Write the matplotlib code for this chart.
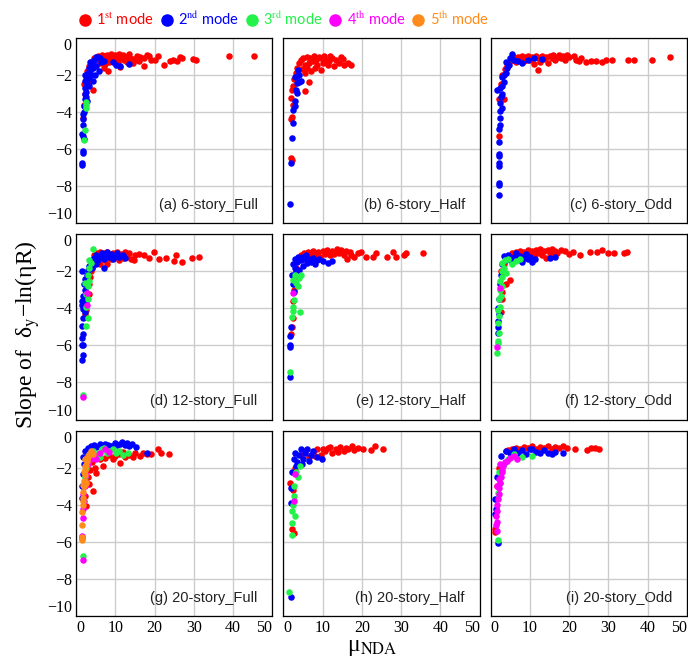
import numpy as np
import matplotlib
matplotlib.use("Agg")
import matplotlib.pyplot as plt
from matplotlib.lines import Line2D

plt.rcParams['mathtext.fontset'] = 'stix'
plt.rcParams['font.family'] = 'Liberation Serif'

# ---- data: (mu_NDA, slope) pairs ----
# (a) 6-story_Full
a1 = [(1.8,-4.3),(2.0,-3.6),(2.2,-3.0),(2.1,-2.5),(2.6,-2.1),(2.9,-1.8),(3.4,-1.5),(3.2,-2.4),(4.4,-2.8),
      (3.8,-1.3),(4.5,-1.1),(5.0,-1.0),(5.5,-0.95),(6.0,-1.0),(6.1,-1.35),(6.5,-0.9),(7.0,-1.6),(7.0,-0.95),
      (7.5,-1.0),(7.8,-1.17),(8.2,-1.8),(8.0,-0.9),(8.7,-1.1),(9.0,-0.85),(9.5,-1.1),(10.0,-0.9),(10.4,-1.06),
      (11.0,-0.85),(11.2,-1.1),(11.2,-1.55),(12.0,-0.9),(12.1,-1.2),(12.9,-1.03),(13.5,-0.85),(13.8,-1.1),
      (14.6,-1.15),(14.6,-1.35),(15.5,-0.99),(16.3,-1.03),(16.0,-1.25),(17.2,-1.08),(17.2,-1.5),(18.0,-0.9),
      (18.5,-0.95),(19.0,-1.2),(20.2,-1.17),(21.0,-0.95),(22.3,-1.44),(24.0,-1.26),(24.8,-1.17),(25.7,-1.26),
      (26.5,-1.0),(27.0,-1.08),(29.9,-1.13),(30.6,-1.2),(38.9,-0.95),(45.4,-0.95),(5.5,-1.2),(6.8,-1.15),
      (8.5,-1.3),(9.8,-1.25),(7.3,-1.4),(10.8,-1.3),(13.0,-1.3),(15.0,-1.2)]
a2 = [(1.5,-6.85),(1.6,-6.75),(1.8,-6.2),(1.9,-6.1),(1.5,-5.2),(1.9,-5.3),(2.0,-5.45),(1.8,-4.7),(1.7,-4.4),
      (1.8,-4.1),(2.0,-4.0),(2.1,-3.7),(2.3,-3.65),(2.2,-3.3),(2.5,-3.2),(2.2,-3.0),(2.6,-2.9),(2.3,-2.7),
      (2.7,-2.5),(2.4,-2.3),(2.8,-2.2),(3.2,-2.1),(3.0,-1.9),(3.5,-1.8),(3.9,-2.0),(3.3,-1.6),(3.8,-1.5),
      (4.2,-1.4),(3.6,-1.3),(4.6,-1.2),(5.0,-1.05),(5.6,-1.0),(6.0,-1.1),(4.4,-1.6),(5.2,-1.5),(5.9,-1.8),
      (4.9,-2.0),(4.2,-2.3),(3.4,-2.6),(6.4,-1.3),(7.0,-1.25),(9.5,-1.3),(10.3,-1.45),(11.1,-1.5),(13.5,-1.4),
      (2.9,-3.4),(2.4,-2.0)]
a3 = [(2.5,-3.45),(2.6,-3.6),(2.5,-3.8),(2.2,-4.95),(2.1,-5.5)]

# (b) 6-story_Half
b1 = [(4.1,-1.35),(4.6,-1.2),(5.0,-1.1),(5.4,-1.44),(5.8,-1.53),(6.0,-1.0),(6.6,-1.35),(6.8,-1.1),(7.1,-1.8),
      (7.5,-1.26),(7.8,-0.95),(8.3,-1.17),(8.6,-1.45),(9.0,-1.0),(9.6,-1.08),(9.6,-1.71),(10.0,-1.35),
      (10.4,-0.95),(10.9,-1.17),(11.3,-1.45),(11.7,-1.26),(12.0,-0.95),(12.5,-1.1),(13.0,-1.53),(13.4,-1.2),
      (14.3,-1.35),(14.6,-1.05),(15.2,-1.14),(15.5,-1.45),(16.4,-1.35),(17.3,-1.44),(4.8,-1.7),(5.5,-1.9),
      (6.5,-2.4),(5.4,-2.89),(3.2,-1.9),(2.8,-2.2),(2.4,-2.6),(2.2,-2.8),(2.0,-3.24),(2.4,-3.6),(2.2,-4.27),
      (2.0,-4.38),(2.0,-6.5),(2.1,-6.6),(3.6,-1.6),(6.0,-1.6),(8.0,-1.6)]
b2 = [(3.7,-1.71),(3.5,-2.07),(3.4,-2.43),(4.1,-2.4),(4.5,-2.35),(3.2,-2.8),(3.4,-2.97),(2.9,-3.42),
      (2.9,-3.66),(2.4,-3.91),(2.4,-4.6),(2.2,-5.4),(2.0,-6.75),(1.7,-8.97),(3.0,-2.1),(4.0,-2.0)]

# (c) 6-story_Odd
c1 = [(2.1,-3.3),(3.4,-3.3),(2.0,-5.28),(2.6,-2.5),(3.0,-2.0),(3.6,-1.7),(4.2,-1.5),(4.8,-1.3),(5.5,-1.2),
      (6.0,-1.05),(6.5,-1.3),(7.0,-1.0),(7.5,-1.15),(8.0,-0.95),(8.5,-1.25),(9.0,-1.05),(9.5,-0.95),(10.0,-1.2),
      (10.5,-1.0),(11.0,-1.4),(11.5,-0.95),(12.0,-1.1),(12.5,-1.3),(13.0,-0.95),(13.5,-1.15),(14.0,-1.0),
      (14.5,-1.35),(15.0,-0.95),(15.5,-1.1),(16.0,-0.9),(16.5,-1.2),(17.0,-1.0),(17.5,-0.9),(18.0,-1.1),
      (18.5,-0.95),(19.0,-1.2),(19.5,-0.9),(20.0,-1.05),(12.0,-1.75),(21.3,-0.95),(21.7,-1.2),(22.5,-1.25),
      (23.0,-1.1),(24.2,-1.3),(25.5,-1.25),(26.8,-1.25),(28.3,-1.32),(29.3,-1.2),(31.0,-1.21),(34.9,-1.17),
      (36.6,-1.17),(41.0,-1.17),(45.7,-1.05)]
c2 = [(2.2,-8.47),(2.0,-7.93),(2.1,-7.84),(2.0,-6.94),(2.0,-6.76),(2.0,-6.36),(2.1,-6.25),(2.0,-5.64),
      (2.2,-4.92),(2.3,-4.69),(2.3,-4.33),(2.5,-3.97),(2.8,-3.79),(2.5,-3.52),(2.6,-3.2),(1.7,-2.8),(2.3,-2.7),
      (3.0,-2.6),(3.4,-2.4),(3.0,-2.1),(3.8,-1.9),(4.2,-1.6),(4.0,-1.3),(5.0,-1.1),(5.5,-0.85),(4.6,-1.45),
      (6.0,-1.2),(7.0,-1.25),(8.0,-1.35),(9.5,-1.2),(11.0,-1.1),(13.0,-1.15),(2.8,-3.0),(3.5,-2.0)]

# (d) 12-story_Full
d1 = [(31.3,-1.22),(29.6,-1.26),(27.0,-1.5),(25.4,-1.13),(24.9,-1.44),(22.8,-1.26),(21.1,-1.32),(19.8,-0.95),
      (18.5,-1.26),(17.3,-1.13),(16.0,-1.08),(14.7,-1.39),(4.5,-1.1),(5.0,-1.0),(5.5,-1.3),(6.0,-0.95),
      (6.5,-1.2),(7.0,-1.0),(7.5,-1.4),(8.0,-0.95),(8.5,-1.15),(9.0,-1.35),(9.5,-1.0),(10.0,-1.2),(10.5,-0.95),
      (11.0,-1.4),(11.5,-1.05),(12.0,-1.25),(12.5,-0.95),(13.0,-1.2),(13.5,-1.0),(14.0,-1.35),(15.0,-1.1),
      (8.0,-1.6),(6.0,-1.6),(4.0,-1.8),(3.6,-2.3),(3.2,-2.7),(3.3,-3.2),(2.8,-3.5),(2.2,-4.3),(2.6,-4.1),
      (3.8,-2.0)]
d2 = [(1.5,-6.76),(1.7,-6.5),(1.4,-6.0),(1.8,-6.0),(1.6,-5.6),(1.7,-5.4),(1.4,-4.95),(1.9,-4.5),(1.7,-4.05),
      (1.4,-3.8),(1.6,-3.6),(1.8,-3.3),(2.2,-3.0),(2.0,-2.7),(2.3,-2.4),(1.5,-2.0),(2.7,-2.2),(3.0,-1.9),
      (3.3,-1.7),(3.7,-1.55),(4.1,-1.4),(4.5,-1.25),(5.0,-1.1),(5.5,-1.4),(6.0,-1.2),(6.5,-1.0),(7.0,-1.3),
      (7.5,-1.1),(8.0,-0.95),(8.5,-1.2),(9.0,-1.05),(9.5,-1.3),(10.0,-1.15),(10.5,-1.0),(11.0,-1.2),
      (12.0,-1.1),(12.6,-1.25),(5.0,-1.6),(7.2,-1.8),(4.0,-1.8),(2.5,-3.6),(2.3,-4.2)]
d3 = [(4.3,-0.8),(3.7,-1.53),(3.4,-1.8),(3.0,-2.2),(3.4,-2.5),(3.0,-2.8),(2.6,-3.2),(3.0,-3.5),(2.6,-3.9),
      (3.0,-4.5),(2.6,-4.95),(3.2,-1.4),(2.4,-2.6),(1.9,-8.65)]
d4 = [(2.9,-3.15),(2.9,-3.8),(1.9,-8.8)]

# (e) 12-story_Half
e1 = [(35.5,-1.02),(31.3,-1.02),(30.8,-1.1),(28.7,-1.2),(27.9,-0.96),(26.4,-1.2),(23.6,-1.02),(22.8,-1.2),
      (21.1,-1.2),(19.8,-0.93),(18.9,-1.02),(18.0,-1.2),(17.2,-1.1),(16.3,-1.3),(4.1,-1.3),(4.6,-1.1),
      (5.2,-1.0),(5.8,-1.25),(6.4,-0.95),(7.0,-1.15),(7.6,-0.9),(8.2,-1.1),(8.8,-0.95),(9.4,-1.2),(10.0,-0.9),
      (10.6,-1.05),(11.2,-0.85),(11.8,-1.1),(12.4,-0.9),(13.0,-1.05),(13.6,-0.8),(14.2,-1.0),(14.8,-0.85),
      (15.4,-1.1),(16.0,-0.9),(17.0,-0.95),(3.2,-1.8),(2.8,-2.3),(2.6,-3.0),(2.4,-3.6),(2.4,-4.5),(2.0,-5.4),
      (2.2,-5.0)]
e2 = [(2.4,-1.6),(2.9,-1.3),(3.0,-1.8),(3.5,-1.5),(3.8,-1.2),(4.0,-1.9),(4.4,-1.4),(4.8,-1.2),(5.0,-1.7),
      (5.4,-1.35),(5.8,-1.1),(6.0,-1.55),(6.5,-1.3),(7.0,-1.5),(7.5,-1.25),(8.0,-1.6),(8.5,-1.4),(9.0,-1.3),
      (10.0,-1.45),(11.4,-1.56),(12.3,-1.43),(2.4,-2.7),(2.6,-3.1),(2.0,-4.99),(1.8,-5.5),(1.8,-5.97),
      (1.8,-6.06),(1.8,-7.7),(2.2,-2.2),(3.3,-2.0)]
e3 = [(2.4,-2.46),(3.1,-2.64),(3.7,-2.8),(4.1,-2.37),(4.5,-2.19),(2.8,-3.54),(2.4,-3.9),(2.4,-4.15),
      (2.2,-4.45),(4.3,-4.2),(1.8,-7.45),(3.0,-2.2)]
e4 = [(2.4,-3.18)]

# (f) 12-story_Odd
f1 = [(34.7,-0.93),(34.0,-1.02),(31.3,-1.02),(30.0,-1.02),(28.3,-0.84),(27.0,-0.93),(25.3,-0.96),(22.8,-1.1),
      (21.1,-0.93),(20.0,-1.05),(19.0,-0.9),(4.9,-1.2),(5.5,-1.0),(6.0,-1.25),(6.5,-0.95),(7.0,-1.1),(7.5,-0.9),
      (8.0,-1.2),(8.5,-0.95),(9.0,-1.1),(9.5,-0.85),(10.0,-1.05),(10.5,-0.9),(11.0,-1.15),(11.5,-0.85),
      (12.0,-1.0),(12.5,-0.8),(13.0,-1.1),(13.5,-0.9),(14.0,-1.25),(14.5,-0.85),(15.0,-1.0),(15.5,-0.8),
      (16.0,-1.1),(16.5,-0.9),(17.0,-1.0),(18.0,-0.85),(4.9,-2.46),(3.9,-2.7),(2.8,-3.1),(2.6,-2.0),(3.5,-1.6),
      (3.0,-3.5),(2.6,-4.2)]
f2 = [(3.5,-1.15),(4.0,-1.4),(4.5,-1.1),(5.0,-1.3),(5.5,-1.5),(6.0,-1.2),(6.5,-1.0),(7.0,-1.35),(7.5,-1.15),
      (8.0,-1.5),(8.5,-1.25),(9.0,-1.05),(9.5,-1.35),(10.0,-1.2),(10.5,-1.5),(11.3,-1.3),(15.2,-1.29),
      (16.3,-1.2),(3.0,-1.6),(2.6,-2.2),(1.9,-3.99),(2.0,-4.3),(1.8,-4.7),(1.9,-5.0),(1.9,-5.35),(2.3,-2.7),
      (2.0,-3.5)]
f3 = [(1.5,-6.4),(1.9,-5.76),(1.9,-5.88),(1.9,-4.8),(2.2,-4.4),(1.9,-4.1),(2.4,-3.9),(2.2,-3.5),(2.6,-3.3),
      (2.3,-3.0),(2.8,-2.8),(2.5,-2.5),(3.0,-2.3),(2.8,-2.0),(3.3,-1.8),(3.0,-1.55),(3.6,-1.4),(4.4,-1.35),
      (5.5,-1.6),(6.5,-1.45),(7.5,-1.3),(3.9,-2.1),(2.0,-5.3)]
f4 = [(2.4,-2.9),(1.5,-6.06)]

# (g) 20-story_Full
g1 = [(23.8,-1.26),(21.7,-1.17),(20.8,-0.99),(19.1,-1.26),(18.0,-1.25),(16.2,-1.35),(14.5,-1.4),(13.5,-1.3),
      (12.5,-1.4),(11.1,-1.71),(10.0,-1.35),(9.4,-1.53),(8.5,-1.3),(7.5,-1.45),(6.8,-1.89),(6.0,-1.5),
      (5.1,-2.25),(4.8,-2.0),(3.4,-2.88),(4.3,-3.24),(2.6,-4.05),(2.4,-3.5),(3.0,-2.5),(15.0,-1.2),(17.0,-1.2),
      (12.0,-1.15),(11.0,-1.25),(4.0,-1.7),(3.5,-2.1)]
g2 = [(1.7,-1.4),(2.2,-1.1),(3.0,-0.9),(3.8,-0.8),(4.5,-0.75),(5.2,-0.85),(6.0,-0.7),(6.8,-0.8),(7.5,-0.7),
      (8.2,-0.75),(9.0,-0.8),(9.8,-0.65),(10.5,-0.75),(11.2,-0.7),(11.8,-0.6),(12.4,-0.75),(13.0,-0.65),
      (13.6,-0.8),(14.2,-0.7),(15.3,-0.85),(18.0,-1.17),(12.8,-0.7),(2.0,-1.8),(1.8,-2.3),(1.6,-3.0),(1.5,-3.6)]
g3 = [(3.4,-1.3),(4.2,-1.1),(5.0,-1.3),(5.8,-1.2),(6.5,-1.0),(7.0,-0.9),(7.8,-1.2),(8.5,-1.1),(9.3,-1.0),
      (10.2,-1.2),(11.0,-1.1),(12.0,-1.3),(13.2,-1.2),(2.5,-2.0),(2.2,-2.5),(1.7,-6.76),(6.2,-1.4)]
g4 = [(1.7,-4.7),(1.5,-5.7),(1.6,-5.8),(1.7,-7.0),(1.8,-4.2),(2.0,-3.8),(2.3,-3.0),(2.6,-2.4),(3.0,-1.8),
      (3.8,-1.5),(4.5,-1.3),(5.2,-1.5),(6.0,-1.2),(7.5,-1.0),(8.3,-1.15),(2.8,-1.4),(1.9,-3.4)]
g5 = [(1.5,-5.1),(1.5,-5.75),(1.5,-5.9),(1.5,-4.4),(1.7,-4.0),(1.8,-3.6),(1.9,-3.3),(2.0,-3.0),(2.1,-2.7),
      (2.2,-2.4),(2.3,-2.1),(2.5,-1.85),(2.7,-1.6),(3.0,-1.4),(3.4,-1.25),(4.3,-1.26),(3.8,-1.1),(2.0,-2.2),
      (1.8,-2.9),(2.4,-1.5),(1.7,-3.8),(2.2,-1.9),(2.6,-2.8)]

# (h) 20-story_Half
h1 = [(25.5,-0.99),(23.4,-0.81),(22.2,-1.05),(20.4,-0.99),(19.0,-0.9),(17.4,-0.81),(16.5,-1.0),(15.5,-1.1),
      (14.5,-0.85),(13.5,-1.0),(12.5,-1.2),(11.5,-0.9),(10.5,-1.1),(9.5,-1.3),(8.5,-1.0),(7.5,-1.2),(6.5,-1.4),
      (5.5,-1.1),(4.5,-1.3),(12.0,-0.85),(14.0,-1.15),(16.0,-0.9),(18.0,-1.05),(10.0,-0.95),(8.0,-1.35),
      (1.7,-2.79),(2.2,-5.3),(2.6,-5.5),(3.0,-2.0),(2.4,-3.2)]
h2 = [(2.6,-1.5),(3.0,-1.2),(3.5,-1.7),(4.0,-1.3),(4.5,-1.0),(5.0,-1.5),(5.5,-1.2),(6.0,-1.0),(6.5,-1.6),
      (7.0,-1.3),(7.5,-1.1),(8.5,-1.4),(9.8,-1.5),(3.2,-1.9),(2.2,-2.2),(1.9,-3.06),(1.9,-3.87),(2.0,-8.97),
      (4.8,-1.8)]
h3 = [(4.3,-1.89),(3.8,-2.5),(2.6,-3.0),(2.6,-3.5),(2.4,-4.0),(2.1,-4.3),(3.0,-4.6),(2.1,-5.0),(2.1,-5.6),
      (1.5,-8.69),(3.3,-2.2)]
h4 = [(3.0,-2.3),(2.6,-3.8)]

# (i) 20-story_Odd
i1 = [(27.7,-0.99),(26.5,-0.9),(25.6,-0.9),(24.5,-1.05),(21.4,-0.99),(18.4,-0.81),(17.5,-0.9),(16.5,-0.85),
      (15.5,-0.95),(14.5,-0.8),(13.5,-0.9),(12.5,-0.85),(11.5,-0.95),(10.5,-0.8),(9.5,-0.9),(8.5,-0.85),
      (7.5,-0.95),(6.5,-0.9),(5.5,-1.0),(4.5,-1.05),(3.9,-1.1),(19.5,-0.9),(1.0,-5.3),(1.1,-5.45),(1.5,-3.0),
      (2.0,-2.0)]
i2 = [(2.65,-1.35),(3.9,-1.1),(5.0,-1.2),(6.0,-1.0),(7.0,-1.2),(8.0,-1.05),(9.0,-1.25),(10.0,-1.0),
      (10.6,-0.95),(11.5,-1.15),(12.5,-1.2),(13.5,-1.05),(14.5,-1.2),(15.5,-1.25),(16.5,-1.15),(18.4,-1.2),
      (1.1,-3.7),(1.3,-4.2),(1.2,-4.5),(1.8,-6.05),(1.6,-2.5)]
i3 = [(5.9,-1.26),(8.0,-1.4),(10.6,-1.35),(4.5,-1.5),(2.2,-2.2),(2.4,-2.8),(1.9,-3.33),(1.9,-5.9),(3.5,-1.8)]
i4 = [(1.5,-5.4),(1.4,-5.1),(1.5,-4.9),(1.3,-4.6),(1.6,-4.3),(1.5,-4.0),(1.8,-3.7),(2.0,-3.4),(2.2,-3.1),
      (2.4,-2.8),(2.6,-2.5),(2.8,-2.2),(3.2,-1.9),(3.6,-1.7),(4.2,-1.6),(5.0,-1.45),(6.0,-1.35),(2.0,-2.6),
      (1.7,-3.0),(3.0,-2.1),(2.3,-1.8),(6.6,-1.5)]

titles = ["(a) 6-story_Full", "(b) 6-story_Half", "(c) 6-story_Odd",
          "(d) 12-story_Full", "(e) 12-story_Half", "(f) 12-story_Odd",
          "(g) 20-story_Full", "(h) 20-story_Half", "(i) 20-story_Odd"]
series = [[a1, a2, a3], [b1, b2], [c1, c2],
          [d1, d2, d3, d4], [e1, e2, e3, e4], [f1, f2, f3, f4],
          [g1, g2, g3, g4, g5], [h1, h2, h3, h4], [i1, i2, i3, i4]]
mode_colors = ['#ff0000', '#0000ff', '#22f24a', '#ff00ff', '#ff8c1a']
mode_names = ['1$^{\\rm st}$ mode', '2$^{\\rm nd}$ mode', '3$^{\\rm rd}$ mode',
              '4$^{\\rm th}$ mode', '5$^{\\rm th}$ mode']

fig, axes = plt.subplots(3, 3, figsize=(6.88, 6.62), dpi=100, sharex=True, sharey=True)
fig.subplots_adjust(left=0.1105, right=0.9985, bottom=0.0695, top=0.9426, wspace=0.056, hspace=0.062)

for k, ax in enumerate(axes.flat):
    for m, pts in enumerate(series[k]):
        xy = np.array(pts)
        ax.scatter(xy[:, 0], xy[:, 1], s=22, color=mode_colors[m], linewidths=0, zorder=3)
    ax.set_xlim(0, 50)
    ax.set_ylim(-10, 0)
    ax.set_xticks([0, 10, 20, 30, 40, 50])
    ax.set_yticks([-10, -8, -6, -4, -2, 0])
    ax.grid(True, color='#cccccc', linewidth=1)
    ax.set_axisbelow(True)
    ax.tick_params(length=0, labelsize=11.5, pad=3)
    for sp in ax.spines.values():
        sp.set_color('black')
        sp.set_linewidth(0.9)
    ax.text(0.925, 0.06, titles[k], transform=ax.transAxes, ha='right', va='bottom',
            fontsize=10.5, family='Liberation Sans', color='#222222')

for ax in axes[:, 0]:
    ticks = ax.yaxis.get_major_ticks()
    ticks[0].label1.set_va('bottom')
    ticks[-1].label1.set_va('top')
for ax in axes[-1, :]:
    ticks = ax.xaxis.get_major_ticks()
    ticks[0].label1.set_ha('left')
    ticks[-1].label1.set_ha('right')

handles = [Line2D([], [], marker='o', linestyle='', markersize=8, color=c) for c in mode_colors]
leg = fig.legend(handles, mode_names, loc='center', bbox_to_anchor=(283 / 688, 1 - 19 / 662), ncol=5,
                 frameon=False, handletextpad=0.3, columnspacing=0.35, handlelength=1.0,
                 prop={'family': 'Lato', 'size': 10.5})
for t, c in zip(leg.get_texts(), mode_colors):
    t.set_color(c)

fig.text(28 / 688, 0.495, 'Slope of  δ$_{\\rm y}$−ln(ηR)', rotation=90, ha='center', va='center',
         fontsize=17)
fig.text(372 / 688, 1 - 648 / 662, 'μ$_{\\rm NDA}$', ha='center', va='center', fontsize=17)

fig.savefig('out.png', dpi=100)
